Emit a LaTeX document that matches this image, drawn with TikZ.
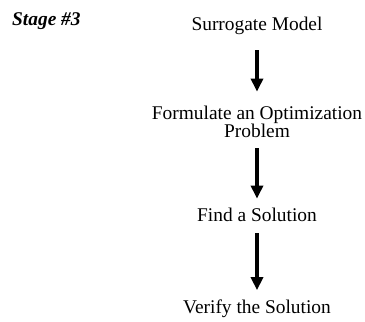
\documentclass[tikz,border=0pt]{standalone}
\usepackage{fontspec}
\setmainfont{Liberation Serif}
\usetikzlibrary{arrows.meta}
\begin{document}
\begin{tikzpicture}[x=1pt,y=1pt,
  lbl/.style={inner sep=0pt, anchor=base, font=\fontsize{19.4}{18}\selectfont, align=center},
  stg/.style={inner sep=0pt, anchor=base west, font=\fontsize{19.4}{18}\selectfont\bfseries\itshape},
  arr/.style={line width=3.5pt, -{Triangle[width=12pt,length=13pt]}}]
\useasboundingbox (0,0) rectangle (365,-322);
\node[stg] (stage) at (12,-25) {Stage \#3};
\node[lbl] (sm) at (257,-30.5) {Surrogate Model};
\node[lbl] (fo) at (257,-137) {Formulate an Optimization\\Problem};
\node[lbl] (fs) at (257,-221) {Find a Solution};
\node[lbl] (vs) at (257,-313) {Verify the Solution};
\draw[arr] ([yshift=-15.3pt]sm.south) -- ([yshift=13.75pt]fo.north);
\draw[arr] ([yshift=-10.8pt]fo.south) -- ([yshift=8.75pt]fs.north);
\draw[arr] ([yshift=-11.7pt]fs.south) -- ([yshift=9pt]vs.north);
\end{tikzpicture}
\end{document}
